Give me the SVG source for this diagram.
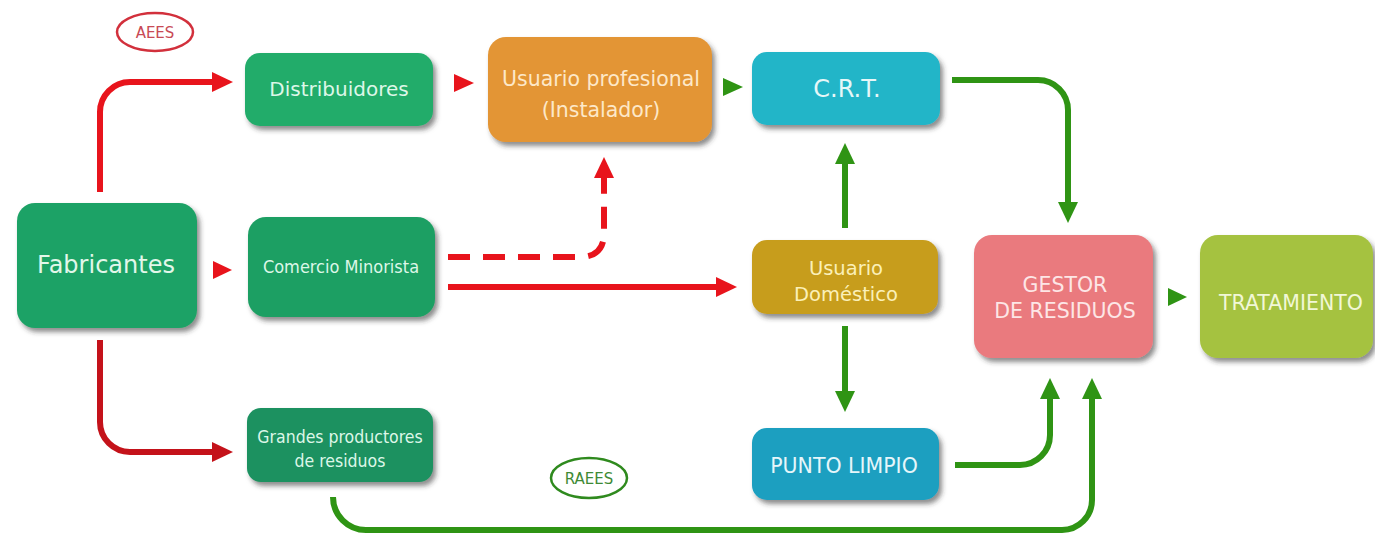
<svg xmlns="http://www.w3.org/2000/svg" width="1375" height="536" viewBox="0 0 1375 536">
<defs>
<filter id="sh" x="-10%" y="-10%" width="125%" height="130%">
<feDropShadow dx="3" dy="4" stdDeviation="2.5" flood-color="#333" flood-opacity="0.55"/>
</filter>
<marker id="ar" markerUnits="userSpaceOnUse" markerWidth="22" markerHeight="22" refX="0" refY="11" orient="auto"><path d="M0,1 L21,11 L0,21 z" fill="#e8141c"/></marker>
<marker id="ard" markerUnits="userSpaceOnUse" markerWidth="22" markerHeight="22" refX="0" refY="11" orient="auto"><path d="M0,1 L21,11 L0,21 z" fill="#c4121a"/></marker>
<marker id="ag" markerUnits="userSpaceOnUse" markerWidth="22" markerHeight="22" refX="0" refY="11" orient="auto"><path d="M0,1 L21,11 L0,21 z" fill="#2f9414"/></marker>
</defs>
<style>
.t{font-family:"DejaVu Sans",Verdana,sans-serif;text-anchor:middle}
.c{font-family:"DejaVu Sans Condensed","DejaVu Sans",sans-serif;font-stretch:condensed;text-anchor:middle}
.r{fill:none;stroke:#e8141c;stroke-width:6}
.rd{fill:none;stroke:#c4121a;stroke-width:6}
.g{fill:none;stroke:#2f9414;stroke-width:6}
</style>
<rect width="1375" height="536" fill="#fff"/>

<g id="connectors">
<path class="r" d="M100,192 V112 A30,30 0 0 1 130,82 H212" marker-end="url(#ar)"/>
<path class="rd" d="M100,340 V422 A30,30 0 0 0 130,452 H212" marker-end="url(#ard)"/>
<path class="r" d="M448,287 H716" marker-end="url(#ar)"/>
<path class="r" d="M448,257 H580 Q604,257 604,233 V178" stroke-dasharray="22 13" marker-end="url(#ar)"/>
<path class="g" d="M952,80 H1038 A30,30 0 0 1 1068,110 V202" marker-end="url(#ag)"/>
<path class="g" d="M845,228 V164" marker-end="url(#ag)"/>
<path class="g" d="M845,326 V391" marker-end="url(#ag)"/>
<path class="g" d="M955,465 H1020 A30,30 0 0 0 1050,435 V399" marker-end="url(#ag)"/>
<path class="g" d="M333,497 A33,33 0 0 0 366,530 H1062 A30,30 0 0 0 1092,500 V399" marker-end="url(#ag)"/>
<polygon points="454,74 474,83 454,92" fill="#e8141c"/>
<polygon points="723,78 743,87 723,96" fill="#2f9414"/>
<polygon points="213,261 232,270 213,279" fill="#e8141c"/>
<polygon points="1168,288 1187,297 1168,306" fill="#2f9414"/>
</g>

<g id="aees">
<ellipse cx="155" cy="32" rx="38" ry="19" fill="#fff" stroke="#d2303c" stroke-width="2.5"/>
<text class="t" x="155" y="38" font-size="15" fill="#c84a55">AEES</text>
</g>
<g id="raees">
<ellipse cx="589" cy="478" rx="38" ry="20" fill="#fff" stroke="#2f8a1e" stroke-width="2.5"/>
<text class="t" x="589" y="484" font-size="15" fill="#3f8a35">RAEES</text>
</g>

<g id="fabricantes">
<rect x="17" y="203" width="180" height="125" rx="18" fill="#1fa266" filter="url(#sh)"/>
<text class="t" x="106" y="273" font-size="24" fill="#e2f7ea">Fabricantes</text>
</g>
<g id="distribuidores">
<rect x="245" y="53" width="188" height="73" rx="15" fill="#22ac6b" filter="url(#sh)"/>
<text class="t" x="339" y="96" font-size="20" fill="#ddf7e8">Distribuidores</text>
</g>
<g id="comercio">
<rect x="248" y="217" width="187" height="100" rx="18" fill="#1e9f63" filter="url(#sh)"/>
<text class="c" x="341" y="273" font-size="18" fill="#ddf7e8">Comercio Minorista</text>
</g>
<g id="grandes">
<rect x="247" y="408" width="186" height="74" rx="14" fill="#1a9160" filter="url(#sh)"/>
<text class="c" x="340" y="443" font-size="17.5" fill="#ddf7e8">Grandes productores</text>
<text class="c" x="340" y="467" font-size="17.5" fill="#ddf7e8">de residuos</text>
</g>
<g id="profesional">
<rect x="488" y="37" width="224" height="105" rx="18" fill="#e39534" filter="url(#sh)"/>
<text class="t" x="601" y="86" font-size="20.5" fill="#fde8c8">Usuario profesional</text>
<text class="t" x="601" y="117" font-size="20.5" fill="#fde8c8">(Instalador)</text>
</g>
<g id="crt">
<rect x="752" y="52" width="188" height="73" rx="15" fill="#20b5c8" filter="url(#sh)"/>
<text class="t" x="847" y="97" font-size="24" fill="#e6f7f8">C.R.T.</text>
</g>
<g id="domestico">
<rect x="752" y="240" width="186" height="74" rx="15" fill="#c79d1f" filter="url(#sh)"/>
<text class="t" x="846" y="275" font-size="19.5" fill="#fbf0b8">Usuario</text>
<text class="t" x="846" y="301" font-size="19.5" fill="#fbf0b8">Doméstico</text>
</g>
<g id="punto">
<rect x="752" y="428" width="187" height="72" rx="15" fill="#1a9fc0" filter="url(#sh)"/>
<text class="t" x="844" y="473" font-size="20.5" fill="#e6f6fa">PUNTO LIMPIO</text>
</g>
<g id="gestor">
<rect x="974" y="235" width="179" height="123" rx="18" fill="#ea7a7e" filter="url(#sh)"/>
<text class="t" x="1065" y="292" font-size="20.5" fill="#fde6e6">GESTOR</text>
<text class="t" x="1065" y="318" font-size="20.5" fill="#fde6e6">DE RESIDUOS</text>
</g>
<g id="tratamiento">
<rect x="1200" y="235" width="173" height="123" rx="18" fill="#a5c23f" filter="url(#sh)"/>
<text class="t" x="1291" y="310" font-size="20.5" fill="#f1f7d6">TRATAMIENTO</text>
</g>
</svg>
